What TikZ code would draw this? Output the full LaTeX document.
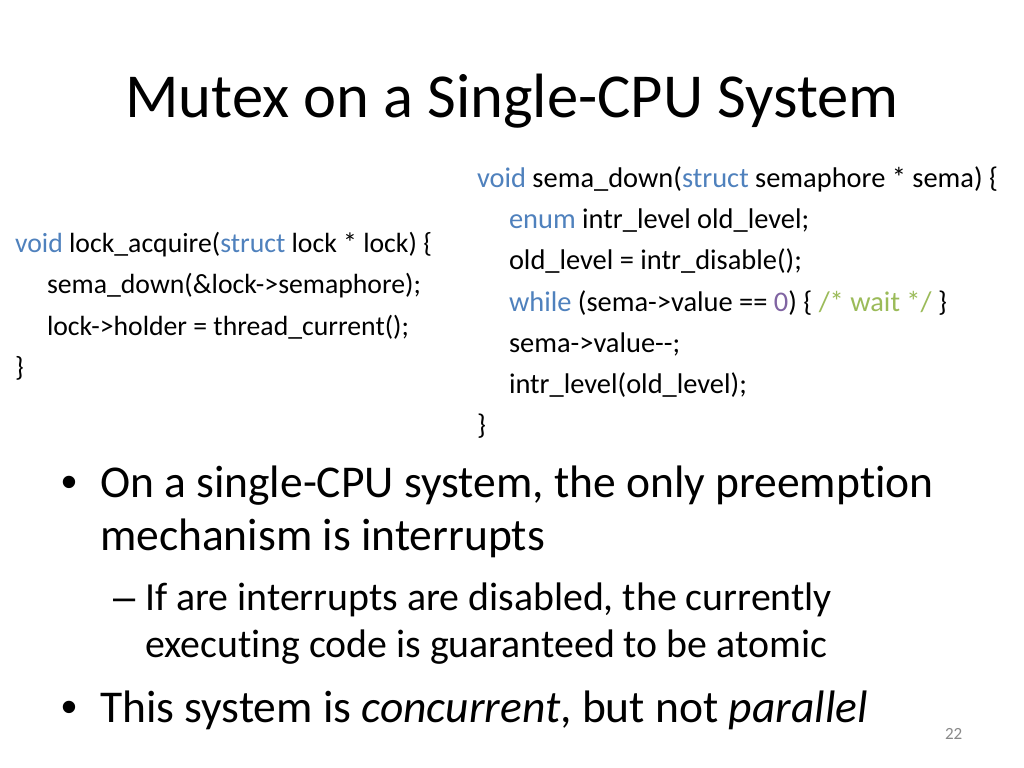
\documentclass[tikz,border=0pt]{standalone}
\usepackage{fontspec}
\setmainfont{Carlito}[Ligatures={TeX,NoCommon}]
\newfontfamily\bulletfont{Liberation Sans}
\definecolor{kw}{HTML}{4F81BD}
\definecolor{num}{HTML}{8064A2}
\definecolor{cmt}{HTML}{9BBB59}
\definecolor{pgnum}{HTML}{898989}
\newcommand{\kwd}[1]{\textcolor{kw}{#1}}
\begin{document}
\begin{tikzpicture}[x=0.703125pt,y=-0.703125pt,
  every node/.style={inner sep=0pt,outer sep=0pt,anchor=base west},
  titletext/.style={font=\fontsize{44}{52}\selectfont,anchor=base},
  code/.style={font=\fontsize{19.5}{23}\selectfont},
  rcode/.style={font=\fontsize{20}{24}\selectfont},
  lone/.style={font=\fontsize{32}{38}\selectfont},
  ltwo/.style={font=\fontsize{28}{34}\selectfont},
  bone/.style={font=\bulletfont\fontsize{32}{38}\selectfont},
  btwo/.style={font=\bulletfont\fontsize{28}{34}\selectfont},
  pagenum/.style={font=\fontsize{12}{14}\selectfont,text=pgnum}]
\useasboundingbox[fill=white] (0,0) rectangle (1024,768);
\node[titletext] (title) at (512,118) {Mutex on a Single-CPU System};
% left code
\node[code] (la1) at (15,253) {\kwd{void} lock\_acquire(\kwd{struct} lock * lock) \{};
\node[code] (la2) at (47,294) {sema\_down(\&lock->semaphore);};
\node[code] (la3) at (47,335) {lock->holder = thread\_current();};
\node[code] (la4) at (15,376) {\}};
% right code
\node[rcode] (sd1) at (477,188) {\kwd{void} sema\_down(\kwd{struct} semaphore * sema) \{};
\node[rcode] (sd2) at (509,229) {\kwd{enum} intr\_level old\_level;};
\node[rcode] (sd3) at (509,270) {old\_level = intr\_disable();};
\node[rcode] (sd4) at (509,311) {\kwd{while} (sema->value == \textcolor{num}{0}) \{ \textcolor{cmt}{/* wait */} \}};
\node[rcode] (sd5) at (509,352) {sema->value\mbox{-}\mbox{-};};
\node[rcode] (sd6) at (509,393) {intr\_level(old\_level);};
\node[rcode] (sd7) at (477,434) {\}};
% bullets
\node[bone] (b1) at (61,497) {•};
\node[lone] (t1a) at (100,497) {On a single-CPU system, the only preemption};
\node[lone] (t1b) at (100,550) {mechanism is interrupts};
\node[btwo] (b2) at (113,610) {–};
\node[ltwo] (t2a) at (145,610) {If are interrupts are disabled, the currently};
\node[ltwo] (t2b) at (145,657) {executing code is guaranteed to be atomic};
\node[bone] (b3) at (61,722) {•};
\node[lone] (t3) at (100,722) {This system is \textit{concurrent}, but not \textit{parallel}};
\node[pagenum] (pg) at (945,739) {22};
\end{tikzpicture}
\end{document}
